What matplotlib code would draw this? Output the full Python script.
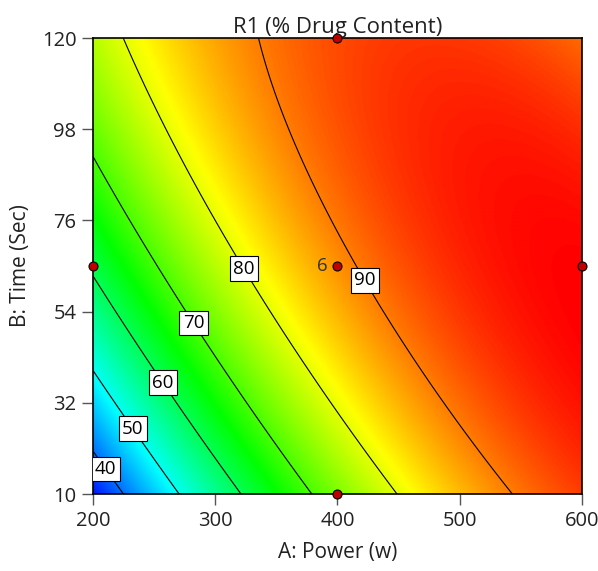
import numpy as np
import matplotlib
matplotlib.use("Agg")
import matplotlib.pyplot as plt
from matplotlib.colors import LinearSegmentedColormap

# ---- data (points lying on each contour: power, time) ----
levels = [40, 50, 60, 70, 80, 90]
c40_power = [200.0, 212.6, 222.3]
c40_time = [21.0, 16.5, 10.0]
c50_power = [200.0, 234.6, 268.7]
c50_time = [38.3, 26.2, 10.0]
c60_power = [200.0, 259.1, 318.8]
c60_time = [61.2, 37.3, 10.0]
c70_power = [200.0, 283.6, 378.2]
c70_time = [90.6, 51.5, 10.0]
c80_power = [226.6, 232.7, 326.1, 448.5]
c80_time = [120.0, 114.7, 64.8, 10.0]
c90_power = [336.0, 339.5, 395.3, 422.6, 433.5, 545.6]
c90_time = [120.0, 114.7, 73.7, 61.6, 54.4, 10.0]

design_power = [400, 200, 400, 600, 400]
design_time = [120, 65, 65, 65, 10]
center_runs = "6"

x_ticks = [200, 300, 400, 500, 600]
y_ticks = [10, 32, 54, 76, 98, 120]

# ---- fit a quadratic response surface through the contour readings ----
P_all, T_all, Y_all = [], [], []
for lev, ps, ts in zip(levels,
                       [c40_power, c50_power, c60_power, c70_power, c80_power, c90_power],
                       [c40_time, c50_time, c60_time, c70_time, c80_time, c90_time]):
    P_all += ps
    T_all += ts
    Y_all += [lev] * len(ps)
P_all = np.array(P_all); T_all = np.array(T_all); Y_all = np.array(Y_all, float)

def design(P, T):
    a = (P - 400) / 200.0
    b = (T - 65) / 55.0
    return np.stack([np.ones_like(a), a, b, a * b, a * a, b * b], axis=-1)

coef, *_ = np.linalg.lstsq(design(P_all, T_all), Y_all, rcond=None)

pg = np.linspace(200, 600, 401)
tg = np.linspace(10, 120, 401)
PP, TT = np.meshgrid(pg, tg)
ZZ = design(PP, TT) @ coef

cmap = LinearSegmentedColormap.from_list(
    "dx", ["#0000ff", "#00ffff", "#00ff00", "#ffff00", "#ff0000"])

plt.rcParams['font.family'] = ['Open Sans', 'DejaVu Sans']
fig = plt.figure(figsize=(5.98, 5.71), dpi=100)
ax = fig.add_axes([93/598, 1-494/571, (582-93)/598, (494-38)/571])

ax.imshow(ZZ, origin="lower", extent=[200, 600, 10, 120], aspect="auto",
          cmap=cmap, vmin=ZZ.min() - 1.5, vmax=ZZ.max(), interpolation="bilinear")
cs = ax.contour(PP, TT, ZZ, levels=levels, colors="black", linewidths=0.8)
label_pos = [(212.6, 16.5), (234.6, 26.2), (259.1, 37.3), (283.6, 51.5),
             (326.1, 64.8), (422.6, 61.6)]
txts = ax.clabel(cs, fmt="%d", fontsize=13.5, inline=True, inline_spacing=2,
                 manual=label_pos)
for t in txts:
    t.set_bbox(dict(boxstyle="square,pad=0.18", fc="white", ec="black", lw=0.8))
    t.set_rotation(0)

ax.scatter(design_power, design_time, s=42, color="#c00000", edgecolor="black",
           linewidth=0.8, zorder=5, clip_on=False)
ax.text(392, 65, center_runs, ha="right", va="center", fontsize=13.5, color="#333333")

ax.set_xlim(200, 600)
ax.set_ylim(10, 120)
ax.set_xticks(x_ticks)
ax.set_yticks(y_ticks)
ax.tick_params(direction="out", length=8, width=1, color="#555555",
               labelsize=14.5, labelcolor="#222222", pad=4)
for s in ax.spines.values():
    s.set_linewidth(1.2)
ax.set_title("R1 (% Drug Content)", fontsize=16, color="#222222", pad=3)
ax.set_xlabel("A: Power (w)", fontsize=15, color="#222222", labelpad=8)
ax.set_ylabel("B: Time (Sec)", fontsize=15, color="#222222", labelpad=8)

fig.savefig("out.png", dpi=100)
